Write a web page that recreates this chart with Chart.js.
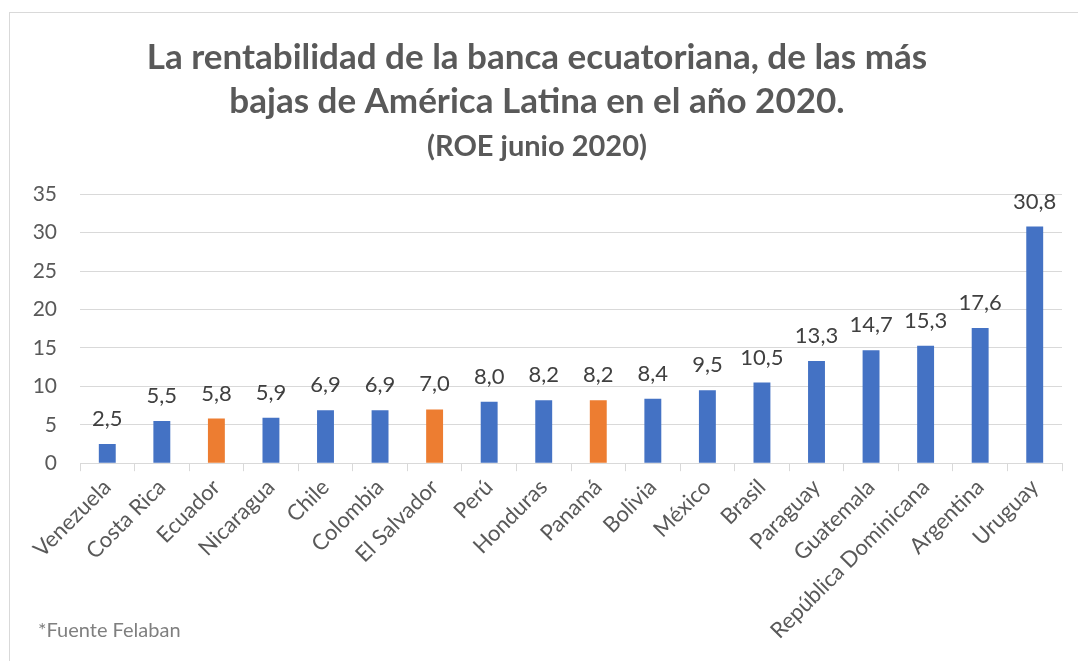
<!DOCTYPE html>
<html>
<head>
<meta charset="utf-8">
<script src="https://cdn.jsdelivr.net/npm/chart.js@4"></script>
<style>
    html, body { margin: 0; padding: 0; background: #ffffff; }
    #wrap { position: relative; width: 1078px; height: 661px; overflow: hidden; }
    #frame { position: absolute; left: 9px; top: 12px; width: 1100px; height: 700px; border: 1px solid #d9d9d9; }
    #chart { position: absolute; left: 0; top: 0; }
    #note { position: absolute; left: 38px; top: 617px; font-family: Lato, sans-serif; font-size: 20px; color: #7f7f7f; }
</style>
</head>
<body>
<div id="wrap">
    <div id="frame"></div>
    <canvas id="chart" width="1078" height="661"></canvas>
    <div id="note">*Fuente Felaban</div>
</div>
<script>
/* Data */
const countries = ['Venezuela', 'Costa Rica', 'Ecuador', 'Nicaragua', 'Chile', 'Colombia', 'El Salvador', 'Perú', 'Honduras', 'Panamá', 'Bolivia', 'México', 'Brasil', 'Paraguay', 'Guatemala', 'República Dominicana', 'Argentina', 'Uruguay'];
const roe = [2.5, 5.5, 5.8, 5.9, 6.9, 6.9, 7.0, 8.0, 8.2, 8.2, 8.4, 9.5, 10.5, 13.3, 14.7, 15.3, 17.6, 30.8];
const highlighted = ['Ecuador', 'El Salvador', 'Panamá'];
const yTicks = [0, 5, 10, 15, 20, 25, 30, 35];

const blue = '#4472C4';
const orange = '#ED7D31';
const textGray = '#595959';
const gridGray = '#d9d9d9';

// Value labels above each bar (comma decimals)
const valueLabels = {
    id: 'valueLabels',
    afterDatasetsDraw(chart) {
        const ctx = chart.ctx;
        const meta = chart.getDatasetMeta(0);
        ctx.save();
        ctx.font = '22px Lato, sans-serif';
        ctx.fillStyle = '#404040';
        ctx.textAlign = 'center';
        ctx.textBaseline = 'alphabetic';
        meta.data.forEach((bar, i) => {
            ctx.fillText(roe[i].toFixed(1).replace('.', ','), bar.x, bar.y - 18);
        });
        ctx.restore();
    },
};

new Chart(document.getElementById('chart'), {
    type: 'bar',
    data: {
        labels: countries,
        datasets: [{
            data: roe,
            backgroundColor: countries.map((c) => (highlighted.includes(c) ? orange : blue)),
            barPercentage: 1,
            categoryPercentage: 0.31,
        }],
    },
    options: {
        responsive: false,
        animation: false,
        layout: {
            padding: { left: 12, right: 16, top: 36, bottom: 14 },
        },
        scales: {
            x: {
                border: { color: gridGray },
                grid: {
                    drawOnChartArea: false,
                    color: gridGray,
                    tickLength: 8,
                },
                ticks: {
                    color: textGray,
                    maxRotation: 45,
                    minRotation: 45,
                    font: { family: 'Lato', size: 22 },
                },
            },
            y: {
                min: 0,
                max: 35,
                afterBuildTicks: (axis) => {
                    axis.ticks = yTicks.map((v) => ({ value: v }));
                },
                afterFit: (axis) => {
                    axis.width = 68;
                },
                border: { display: false },
                grid: { color: gridGray, drawTicks: false },
                ticks: {
                    color: textGray,
                    padding: 23,
                    font: { family: 'Lato', size: 21 },
                },
            },
        },
        plugins: {
            legend: { display: false },
            tooltip: { enabled: false },
            title: {
                display: true,
                text: ['La rentabilidad de la banca ecuatoriana, de las más', 'bajas de América Latina en el año 2020.'],
                color: textGray,
                font: { family: 'Lato', size: 35, weight: 'bold', lineHeight: 1.25 },
                padding: { top: 0, bottom: 6 },
            },
            subtitle: {
                display: true,
                text: '(ROE junio 2020)',
                color: textGray,
                font: { family: 'Lato', size: 29, weight: 'bold', lineHeight: 1.2 },
                padding: { top: 0, bottom: 30 },
            },
        },
    },
    plugins: [valueLabels],
});
</script>
</body>
</html>
